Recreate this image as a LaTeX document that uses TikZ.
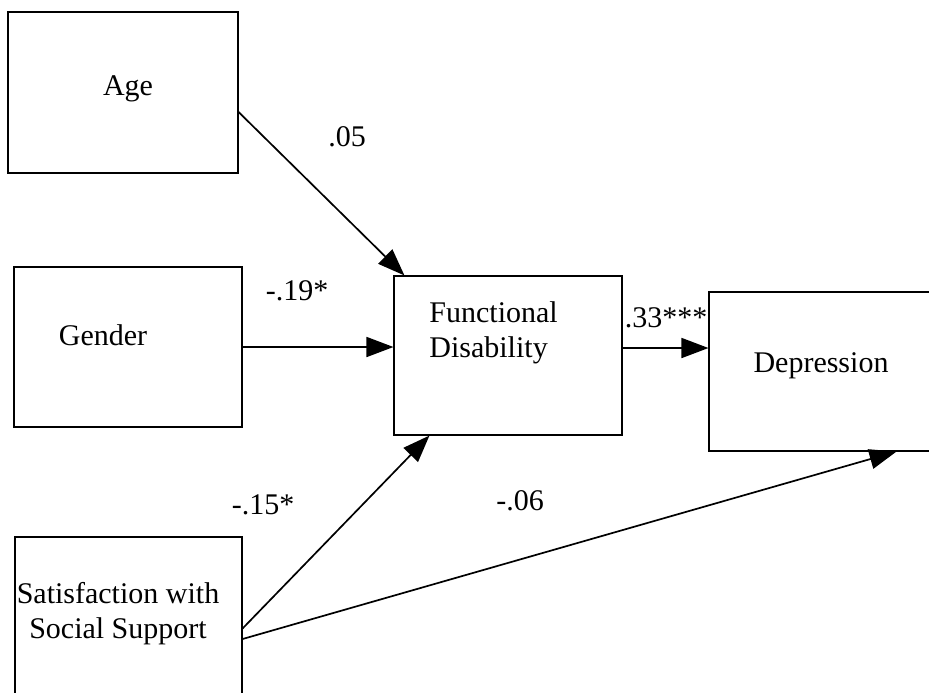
\documentclass[tikz,border=0pt]{standalone}
\usepackage{fontspec}
\setmainfont{Liberation Serif}
\usetikzlibrary{arrows.meta}
\begin{document}
\begin{tikzpicture}[x=0.5pt,y=-0.5pt,
  box/.style={draw=black,line width=0.55pt,rectangle,inner sep=0pt},
  txt/.style={font=\fontsize{15}{17.5}\selectfont,inner sep=0pt},
  lbl/.style={font=\fontsize{15}{17}\selectfont,inner sep=0pt,anchor=base},
  arr/.style={draw=black,line width=0.85pt,-{Triangle[length=13.5pt,width=10pt]}}]
\clip (0,0) rectangle (929,692);
\fill[white] (0,0) rectangle (929,692);
% boxes
\node[box,minimum width=115pt,minimum height=80.5pt] (age) at (123,92.5) {};
\node[box,minimum width=114pt,minimum height=80pt] (gender) at (128,347) {};
\node[box,minimum width=114pt,minimum height=79.5pt] (fd) at (508,355.5) {};
\node[box,minimum width=125.5pt,minimum height=79.5pt] (dep) at (834.5,371.5) {};
\node[box,minimum width=113.5pt,minimum height=91.5pt] (sat) at (128.5,628.5) {};
% texts
\node[txt,anchor=base] (agetxt) at (128,95) {Age};
\node[txt,anchor=base] (gendertxt) at (103,345) {Gender};
\node[txt,anchor=north west,align=left] (fdtxt) at (429,301.5) {Functional\\Disability};
\node[txt,anchor=base] (deptxt) at (821,372) {Depression};
\node[txt,anchor=north,align=center] (sattxt) at (118,581.5) {Satisfaction with\\Social Support};
% connectors
\draw[arr] ([yshift=-9.75pt]age.east) -- ([xshift=5.5pt]fd.north west);
\draw[arr] (gender.east) -- (gender.east -| fd.west);
\coordinate (fdout) at ([yshift=3.75pt]fd.east);
\draw[arr] (fdout) -- (fdout -| dep.west);
\draw[arr] (sat.east) -- ([xshift=18pt]fd.south west);
\draw[arr] ([yshift=-5.25pt]sat.east) -- ([xshift=94pt]dep.south west);
% labels
\node[lbl] (l1) at (347,146) {.05};
\node[lbl] (l2) at (297,300) {-.19*};
\node[lbl] (l3) at (666,327) {.33***};
\node[lbl] (l4) at (263,514) {-.15*};
\node[lbl] (l5) at (520,510) {-.06};
\end{tikzpicture}
\end{document}
